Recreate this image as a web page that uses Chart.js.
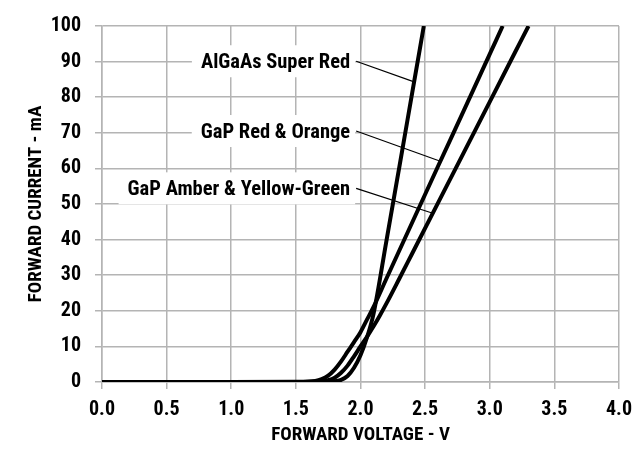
<!DOCTYPE html>
<html>
<head>
<meta charset="utf-8">
<script src="https://cdn.jsdelivr.net/npm/chart.js@4.4.0/dist/chart.umd.min.js"></script>
<style>
html, body { margin: 0; padding: 0; background: #fff; }
</style>
</head>
<body>
<canvas id="ivChart" width="641" height="449"></canvas>
<script>
// Forward voltage (V) and forward current (mA)
const superRedV = [0, 1.0, 1.5, 1.7, 1.8, 1.85, 1.9, 1.95, 2.0, 2.05, 2.1, 2.2, 2.3, 2.4, 2.49];
const superRedI = [0, 0, 0, 0.05, 0.2, 0.6, 1.7, 4, 7.5, 12.5, 19, 39.5, 60.3, 81.2, 100];

const redOrangeV = [0, 1.0, 1.5, 1.65, 1.7, 1.75, 1.8, 1.85, 1.9, 1.95, 2.0, 2.05, 2.1, 2.2, 2.4, 2.6, 2.8, 3.0, 3.1];
const redOrangeI = [0, 0, 0.05, 0.3, 0.8, 1.8, 3.5, 5.8, 8.5, 11.2, 14, 17.5, 21, 29, 44.8, 60.6, 76.3, 92.1, 100];

const amberV = [0, 1.0, 1.5, 1.7, 1.75, 1.8, 1.85, 1.9, 1.95, 2.0, 2.05, 2.1, 2.15, 2.2, 2.3, 2.4, 2.6, 2.8, 3.0, 3.2, 3.3];
const amberI = [0, 0, 0.02, 0.15, 0.5, 1.2, 2.6, 4.6, 7.2, 10, 12.7, 15.6, 18.7, 22, 29, 36.1, 50.3, 64.5, 78.7, 92.9, 100];

const seriesNames = ['AlGaAs Super Red', 'GaP Red & Orange', 'GaP Amber & Yellow-Green'];

const FONT = "'Roboto Condensed', 'Liberation Sans Narrow', 'Arial Narrow', Roboto, sans-serif";
const GRID = '#b4b4b4';

function toPoints(xs, ys) {
    return xs.map((x, i) => ({ x: x, y: ys[i] }));
}

// where each name sits (current at label centre) and where its leader meets the curve
const curveLabels = [
    { series: 0, at: 90.1, target: 84.3 },
    { series: 1, at: 70.5, target: 62 },
    { series: 2, at: 54.4, target: 47.4 }
];
const labelRightV = 1.92;

// voltage on a series at a given current (straight-line between read points)
function voltageAt(points, current) {
    for (let i = 1; i < points.length; i++) {
        const a = points[i - 1], b = points[i];
        if (current >= a.y && current <= b.y && b.y > a.y) {
            return a.x + (b.x - a.x) * (current - a.y) / (b.y - a.y);
        }
    }
    return points[points.length - 1].x;
}

const curveLabelPlugin = {
    id: 'curveLabels',
    afterDatasetsDraw(chart) {
        const ctx = chart.ctx;
        const xs = chart.scales.x, ys = chart.scales.y;
        ctx.save();
        ctx.font = 'bold 20.5px ' + FONT;
        curveLabels.forEach(lb => {
            const text = seriesNames[lb.series];
            const right = xs.getPixelForValue(labelRightV);
            const cy = ys.getPixelForValue(lb.at);
            const w = ctx.measureText(text).width;
            ctx.fillStyle = '#fff';
            ctx.fillRect(right - w - 9, cy - 16, w + 14, 32);
            ctx.fillStyle = '#000';
            ctx.textAlign = 'right';
            ctx.textBaseline = 'alphabetic';
            ctx.fillText(text, right, cy + 7);

            const pts = chart.data.datasets[lb.series].data;
            const tx = xs.getPixelForValue(voltageAt(pts, lb.target));
            const ty = ys.getPixelForValue(lb.target);
            ctx.beginPath();
            ctx.moveTo(right + 6, cy);
            ctx.lineTo(tx, ty);
            ctx.lineWidth = 1.2;
            ctx.strokeStyle = '#000';
            ctx.stroke();
        });
        ctx.restore();
    }
};

function makeSeries(label, xs, ys) {
    return {
        label: label,
        data: toPoints(xs, ys),
        borderColor: '#000',
        borderWidth: 4,
        pointRadius: 0,
        fill: false,
        cubicInterpolationMode: 'monotone'
    };
}

const tickFont = { family: FONT, size: 20, weight: 'bold' };
const titleFont = { family: FONT, size: 19, weight: 'bold' };

new Chart(document.getElementById('ivChart').getContext('2d'), {
    type: 'line',
    data: {
        datasets: [
            makeSeries(seriesNames[0], superRedV, superRedI),
            makeSeries(seriesNames[1], redOrangeV, redOrangeI),
            makeSeries(seriesNames[2], amberV, amberI)
        ]
    },
    options: {
        responsive: false,
        animation: false,
        devicePixelRatio: 1,
        layout: { padding: { left: 0, top: 19, right: 14, bottom: 0 } },
        plugins: {
            legend: { display: false },
            tooltip: { enabled: false }
        },
        scales: {
            x: {
                type: 'linear',
                min: 0,
                max: 4,
                ticks: {
                    stepSize: 0.5,
                    maxRotation: 0,
                    color: '#000',
                    font: tickFont,
                    padding: 9,
                    callback: v => v.toFixed(1)
                },
                grid: { color: GRID, lineWidth: 1.5, tickLength: 7 },
                border: { color: GRID, width: 1.5 },
                title: {
                    display: true,
                    text: 'FORWARD VOLTAGE - V',
                    color: '#000',
                    font: titleFont,
                    padding: { top: 0, bottom: 2 }
                },
                afterFit: s => { s.height = 67; }
            },
            y: {
                min: 0,
                max: 100,
                ticks: {
                    stepSize: 10,
                    color: '#000',
                    font: tickFont,
                    padding: 14
                },
                grid: { color: GRID, lineWidth: 1.5, tickLength: 7 },
                border: { color: GRID, width: 1.5 },
                title: {
                    display: true,
                    text: 'FORWARD CURRENT - mA',
                    color: '#000',
                    font: titleFont,
                    padding: { top: 25, bottom: 0 }
                },
                afterFit: s => { s.width = 102; }
            }
        }
    },
    plugins: [curveLabelPlugin]
});
</script>
</body>
</html>
